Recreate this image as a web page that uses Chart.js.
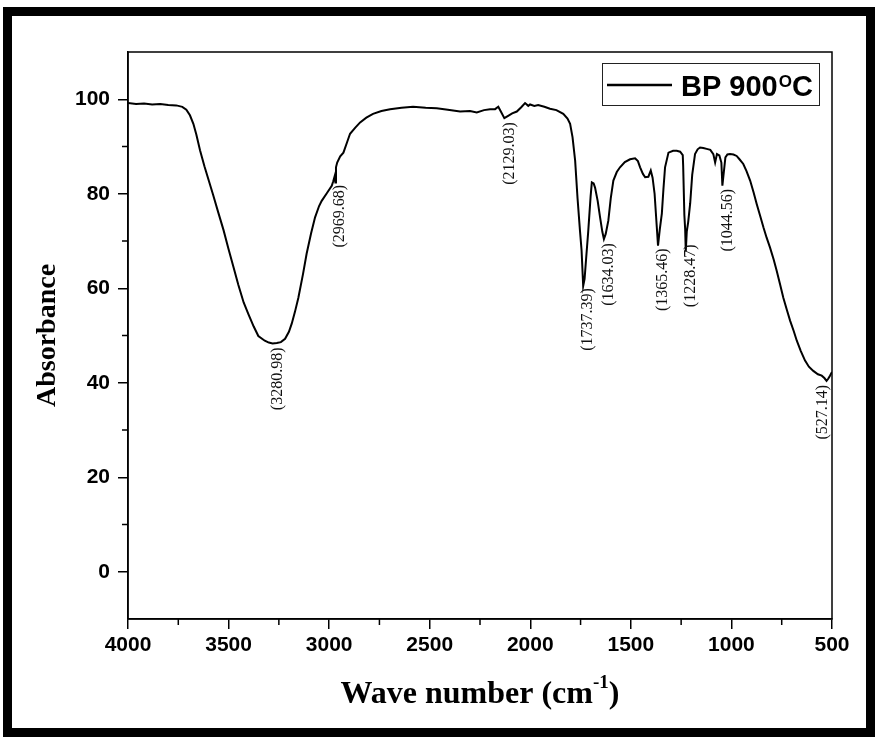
<!DOCTYPE html>
<html>
<head>
<meta charset="utf-8">
<script src="https://cdn.jsdelivr.net/npm/chart.js@4.4.1/dist/chart.umd.min.js"></script>
<style>
  body { margin: 0; background: #fff; }
  canvas { display: block; }
</style>
</head>
<body>
<canvas id="myChart" width="878" height="740"></canvas>
<script>
// wave number (cm-1)
var waveNumber = [4000, 3960, 3920, 3880, 3840, 3800, 3760, 3730, 3710, 3692, 3675, 3660, 3642, 3620, 3600, 3577, 3551, 3525, 3501, 3475, 3452, 3425, 3402, 3375, 3352, 3320, 3300, 3281, 3260, 3240, 3219, 3200, 3186, 3170, 3153, 3130, 3112, 3090, 3070, 3050, 3037, 3010, 2987, 2980, 2972, 2969, 2966, 2960, 2945, 2929, 2910, 2896, 2870, 2846, 2815, 2782, 2740, 2697, 2640, 2583, 2520, 2465, 2410, 2349, 2300, 2266, 2230, 2200, 2175, 2159, 2145, 2129, 2110, 2090, 2067, 2045, 2026, 2010, 2001, 1980, 1961, 1930, 1902, 1870, 1836, 1815, 1802, 1790, 1777, 1765, 1753, 1745, 1737, 1730, 1722, 1712, 1700, 1694, 1685, 1678, 1665, 1653, 1642, 1634, 1625, 1612, 1600, 1587, 1570, 1554, 1530, 1504, 1479, 1465, 1454, 1440, 1429, 1413, 1401, 1392, 1382, 1371, 1365, 1356, 1346, 1338, 1330, 1313, 1290, 1272, 1255, 1242, 1240, 1234, 1230, 1227, 1222, 1215, 1205, 1195, 1181, 1168, 1156, 1140, 1123, 1105, 1090, 1081, 1072, 1060, 1050, 1045, 1038, 1030, 1020, 1007, 990, 974, 960, 941, 925, 907, 890, 874, 857, 841, 825, 808, 790, 775, 758, 742, 725, 708, 690, 675, 655, 634, 615, 593, 570, 551, 538, 527, 518, 510, 500];
var absorbance = [99.2, 99.0, 99.1, 98.9, 99.0, 98.8, 98.7, 98.4, 97.8, 96.6, 94.8, 92.5, 89.2, 85.8, 83.0, 79.8, 76.0, 72.3, 68.4, 64.4, 60.8, 57.0, 54.6, 51.9, 49.9, 48.9, 48.5, 48.3, 48.4, 48.6, 49.3, 50.8, 52.5, 55.0, 58.0, 63.0, 67.3, 71.6, 75.0, 77.4, 78.5, 80.2, 81.7, 82.6, 83.8, 82.4, 85.6, 86.6, 87.9, 88.7, 91.0, 92.7, 94.0, 95.1, 96.1, 96.9, 97.5, 97.9, 98.2, 98.4, 98.2, 98.1, 97.8, 97.4, 97.5, 97.2, 97.7, 97.9, 97.9, 98.4, 97.3, 96.0, 96.5, 97.0, 97.4, 98.3, 99.2, 98.6, 98.9, 98.6, 98.8, 98.4, 98.0, 97.7, 96.9, 95.9, 94.8, 92.0, 87.0, 79.0, 72.2, 68.0, 60.5, 62.0, 66.5, 72.0, 79.5, 82.4, 82.2, 81.3, 78.5, 75.0, 72.0, 70.4, 71.5, 74.3, 79.0, 82.8, 84.6, 85.6, 86.7, 87.3, 87.5, 86.9, 85.6, 84.2, 83.5, 83.6, 84.9, 83.4, 80.0, 72.9, 69.0, 72.5, 75.8, 81.0, 85.6, 88.7, 89.1, 89.1, 88.9, 88.2, 86.0, 75.5, 72.5, 67.8, 72.0, 74.0, 78.0, 84.0, 88.4, 89.4, 89.8, 89.7, 89.5, 89.3, 88.4, 86.6, 88.4, 88.1, 86.6, 81.7, 84.5, 87.7, 88.3, 88.4, 88.3, 88.0, 87.3, 86.3, 84.8, 82.8, 80.3, 77.8, 75.3, 72.9, 70.7, 68.6, 66.1, 63.7, 60.8, 58.0, 55.5, 53.1, 50.9, 48.9, 46.7, 44.7, 43.4, 42.5, 41.8, 41.5, 41.0, 40.4, 40.9, 41.5, 42.3];

// labelled bands
var peakWave = [3280.98, 2969.68, 2129.03, 1737.39, 1634.03, 1365.46, 1228.47, 1044.56, 527.14];

// axis ticks
var xTicks = [4000, 3500, 3000, 2500, 2000, 1500, 1000, 500];
var xMinor = [3750, 3250, 2750, 2250, 1750, 1250, 750];
var yTicks = [0, 20, 40, 60, 80, 100];
var yMinor = [10, 30, 50, 70, 90];

var seriesName = 'BP 900';

var sansFam = "'Liberation Sans', Arial, sans-serif";
var serifFam = "'Liberation Serif', 'Times New Roman', serif";

var points = [];
for (var i = 0; i < waveNumber.length; i++) {
    points.push({ x: waveNumber[i], y: absorbance[i] });
}

function valueAt(w) {
    for (var i = 0; i < waveNumber.length - 1; i++) {
        if (waveNumber[i] >= w && waveNumber[i + 1] <= w) {
            var t = (waveNumber[i] - w) / (waveNumber[i] - waveNumber[i + 1]);
            return absorbance[i] + t * (absorbance[i + 1] - absorbance[i]);
        }
    }
    return absorbance[absorbance.length - 1];
}

// marco, ticks menores, etiquetas de picos, leyenda y titulo x
var decorPlugin = {
    id: 'decor',
    afterDraw: function(chart) {
        var ctx = chart.ctx;
        var a = chart.chartArea;
        var xs = chart.scales.x;
        var ys = chart.scales.y;
        ctx.save();

        // outer thick frame
        ctx.strokeStyle = '#000';
        ctx.lineWidth = 9;
        ctx.strokeRect(7.5, 11.5, 863, 721);

        // plot box
        ctx.lineWidth = 1.5;
        ctx.strokeRect(a.left, a.top, a.right - a.left, a.bottom - a.top);

        // minor ticks
        ctx.beginPath();
        yMinor.forEach(function(v) {
            var p = ys.getPixelForValue(v);
            ctx.moveTo(a.left - 6, p);
            ctx.lineTo(a.left, p);
        });
        xMinor.forEach(function(v) {
            var p = xs.getPixelForValue(v);
            ctx.moveTo(p, a.bottom);
            ctx.lineTo(p, a.bottom + 6);
        });
        ctx.stroke();

        // peak labels
        ctx.fillStyle = '#111';
        ctx.font = "16px " + serifFam;
        ctx.textAlign = 'right';
        ctx.textBaseline = 'middle';
        peakWave.forEach(function(w) {
            var px = Math.min(xs.getPixelForValue(w) + 5, a.right - 9);
            var py = ys.getPixelForValue(valueAt(w));
            ctx.save();
            ctx.translate(px, py + 4);
            ctx.rotate(-Math.PI / 2);
            ctx.fillText('(' + w.toFixed(2) + ')', 0, 0);
            ctx.restore();
        });

        // legend
        ctx.lineWidth = 1;
        ctx.strokeStyle = '#222';
        ctx.strokeRect(602.5, 63.5, 217, 42);
        ctx.strokeStyle = '#000';
        ctx.lineWidth = 2.5;
        ctx.beginPath();
        ctx.moveTo(607, 85);
        ctx.lineTo(672, 85);
        ctx.stroke();
        ctx.fillStyle = '#000';
        ctx.textAlign = 'left';
        ctx.textBaseline = 'alphabetic';
        ctx.font = "bold 29px " + sansFam;
        var lx = 681;
        ctx.fillText(seriesName, lx, 96);
        lx += ctx.measureText(seriesName).width + 1;
        ctx.font = "bold 17px " + sansFam;
        ctx.fillText('O', lx, 87);
        lx += ctx.measureText('O').width;
        ctx.font = "bold 29px " + sansFam;
        ctx.fillText('C', lx, 96);

        // x axis title with superscript
        var cx = (a.left + a.right) / 2;
        var big = "bold 32px " + serifFam;
        var small = "bold 19px " + serifFam;
        ctx.font = big;
        var w1 = ctx.measureText('Wave number (cm').width;
        var w3 = ctx.measureText(')').width;
        ctx.font = small;
        var w2 = ctx.measureText('-1').width;
        var sx = cx - (w1 + w2 + w3) / 2;
        ctx.font = big;
        ctx.fillText('Wave number (cm', sx, 703);
        ctx.font = small;
        ctx.fillText('-1', sx + w1, 688);
        ctx.font = big;
        ctx.fillText(')', sx + w1 + w2, 703);

        ctx.restore();
    }
};

var ctx = document.getElementById('myChart').getContext('2d');
var myChart = new Chart(ctx, {
    type: 'line',
    data: {
        datasets: [{
            label: seriesName,
            data: points,
            borderColor: '#000',
            borderWidth: 2,
            pointRadius: 0,
            fill: false,
            tension: 0
        }]
    },
    options: {
        responsive: false,
        animation: false,
        layout: { padding: { left: 0, top: 52, right: 46, bottom: 0 } },
        plugins: {
            legend: { display: false },
            tooltip: { enabled: false }
        },
        scales: {
            x: {
                type: 'linear',
                min: 500,
                max: 4000,
                reverse: true,
                afterBuildTicks: function(s) {
                    s.ticks = xTicks.map(function(v) { return { value: v }; });
                },
                afterFit: function(s) { s.height = 121; },
                grid: { drawOnChartArea: false, tickLength: 10, color: '#000', lineWidth: 1.5 },
                border: { color: '#000', width: 1.5 },
                ticks: {
                    color: '#000',
                    padding: 4,
                    maxRotation: 0,
                    callback: function(v) { return String(v); },
                    font: { family: sansFam, size: 21, weight: 'bold' }
                }
            },
            y: {
                min: -10,
                max: 110,
                afterBuildTicks: function(s) {
                    s.ticks = yTicks.map(function(v) { return { value: v }; });
                },
                afterFit: function(s) { s.width = 128; },
                grid: { drawOnChartArea: false, tickLength: 10, color: '#000', lineWidth: 1.5 },
                border: { color: '#000', width: 1.5 },
                ticks: {
                    color: '#000',
                    padding: 8,
                    callback: function(v) { return String(v); },
                    font: { family: sansFam, size: 21, weight: 'bold' }
                },
                title: {
                    display: true,
                    text: 'Absorbance',
                    color: '#000',
                    padding: { top: 31, bottom: 0 },
                    font: { family: serifFam, size: 28, weight: 'bold' }
                }
            }
        }
    },
    plugins: [decorPlugin]
});
</script>
</body>
</html>
